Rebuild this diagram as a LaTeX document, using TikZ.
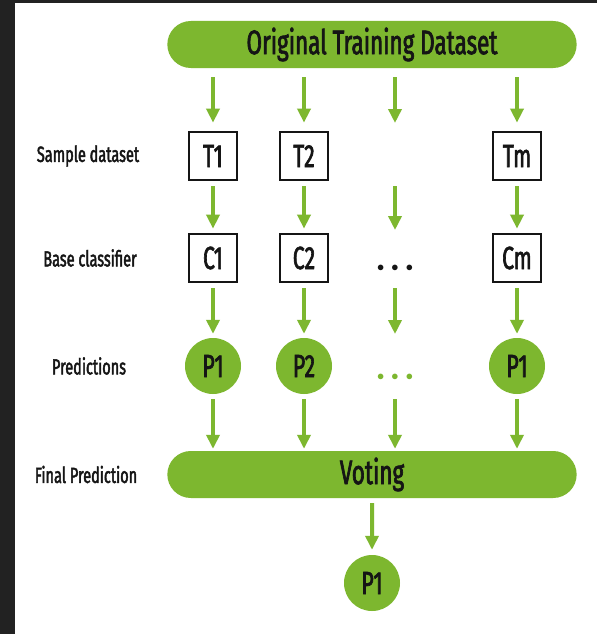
\documentclass[tikz,border=0pt]{standalone}
\usepackage{fontspec}
\setmainfont{Fira Sans}[FakeStretch=0.66,FakeBold=2]
\usetikzlibrary{arrows.meta,positioning,shapes.misc,calc}
\definecolor{leaf}{HTML}{7DB72F}
\definecolor{ink}{HTML}{151515}
\definecolor{frame}{HTML}{222222}

\begin{document}
\begin{tikzpicture}[x=1pt, y=-1pt, >={Triangle[width=13pt,length=14pt]}, on grid,
   box/.style={draw=ink, line width=2.7pt, fill=white, minimum size=48pt, inner sep=0pt, text=ink, font=\fontsize{32}{32}\selectfont},
   pred/.style={circle, fill=leaf, minimum size=56pt, inner sep=0pt, text=ink, font=\fontsize{32}{32}\selectfont},
   pill/.style={rounded rectangle, fill=leaf, minimum width=416pt, minimum height=47pt, text=ink, font=\fontsize{34}{34}\selectfont},
   lbl/.style={text=ink, font=\fontsize{22}{22}\selectfont},
   dots/.style={inner sep=0pt, font=\fontsize{14}{14}\selectfont},
   flow/.style={->, draw=leaf, line width=4pt, shorten <=5pt, shorten >=4pt}]
   \useasboundingbox (0,0) rectangle (597,634);
   \fill[white] (0,0) rectangle (597,634);
   \fill[frame] (0,0) rectangle (15,634);
   \fill[frame] (0,0) rectangle (597,3);

   % rows
   \node[pill] (top) at (372,44.5) {Original Training Dataset};
   \node[box] (t_1) at (213,156) {T1};
   \node[box] (t_2) at (304,156) {T2};
   \coordinate (t_x) at (395,156);
   \node[box] (t_m) at (517,156) {Tm};

   \node[box] (c_1) [below=102pt of t_1] {C1};
   \node[box] (c_2) [below=102pt of t_2] {C2};
   \node[dots, text=ink] (c_x) at (395,268) {$\bullet\hspace{4pt}\bullet\hspace{4pt}\bullet$};
   \node[box] (c_m) [below=102pt of t_m] {Cm};

   \node[pred] (p_1) [below=108pt of c_1] {P1};
   \node[pred] (p_2) [below=108pt of c_2] {P2};
   \node[dots, text=leaf] (p_x) at (395,377) {$\bullet\hspace{4pt}\bullet\hspace{4pt}\bullet$};
   \node[pred] (p_m) [below=108pt of c_m] {P1};

   \node[pill] (vote) at (372,474.5) {Voting};
   \node[pred] (final) [below=108.5pt of vote] {P1};

   % row labels
   \node[lbl] (l_sample) [left=125pt of t_1] {Sample dataset};
   \node[lbl] (l_base) [left=123pt of c_1] {Base classifier};
   \node[lbl] (l_pred) [left=124pt of p_1] {Predictions};
   \node[lbl] (l_final) [left=286pt of vote] {Final Prediction};

   % arrows
   \draw[flow, shorten <=9pt, shorten >=8pt] (top.south -| t_1) -- (t_1);
   \draw[flow, shorten <=9pt, shorten >=8pt] (top.south -| t_2) -- (t_2);
   \draw[flow, shorten <=9pt, shorten >=8pt] (top.south -| t_x) -- ($(t_x)+(0,-25)$);
   \draw[flow, shorten <=9pt, shorten >=8pt] (top.south -| t_m) -- (t_m);

   \draw[flow] (t_1) -- (c_1);
   \draw[flow] (t_2) -- (c_2);
   \draw[flow] ($(t_x)+(0,25)$) -- ($(c_x)+(0,-34)$);
   \draw[flow] (t_m) -- (c_m);

   \draw[flow] (c_1) -- (p_1);
   \draw[flow] (c_2) -- (p_2);
   \draw[flow] ($(c_x)+(0,15)$) -- ($(p_x)+(0,-39)$);
   \draw[flow] (c_m) -- (p_m);

   \draw[flow, shorten >=2pt] (p_1) -- (vote.north -| p_1);
   \draw[flow, shorten >=2pt] (p_2) -- (vote.north -| p_2);
   \draw[flow, shorten >=2pt] ($(p_x)+(0,17)$) -- (vote.north -| p_x);
   \draw[flow, shorten >=2pt] (p_m) -- (vote.north -| p_m);

   \draw[flow, shorten >=5pt] (vote) -- (final);
\end{tikzpicture}
\end{document}
